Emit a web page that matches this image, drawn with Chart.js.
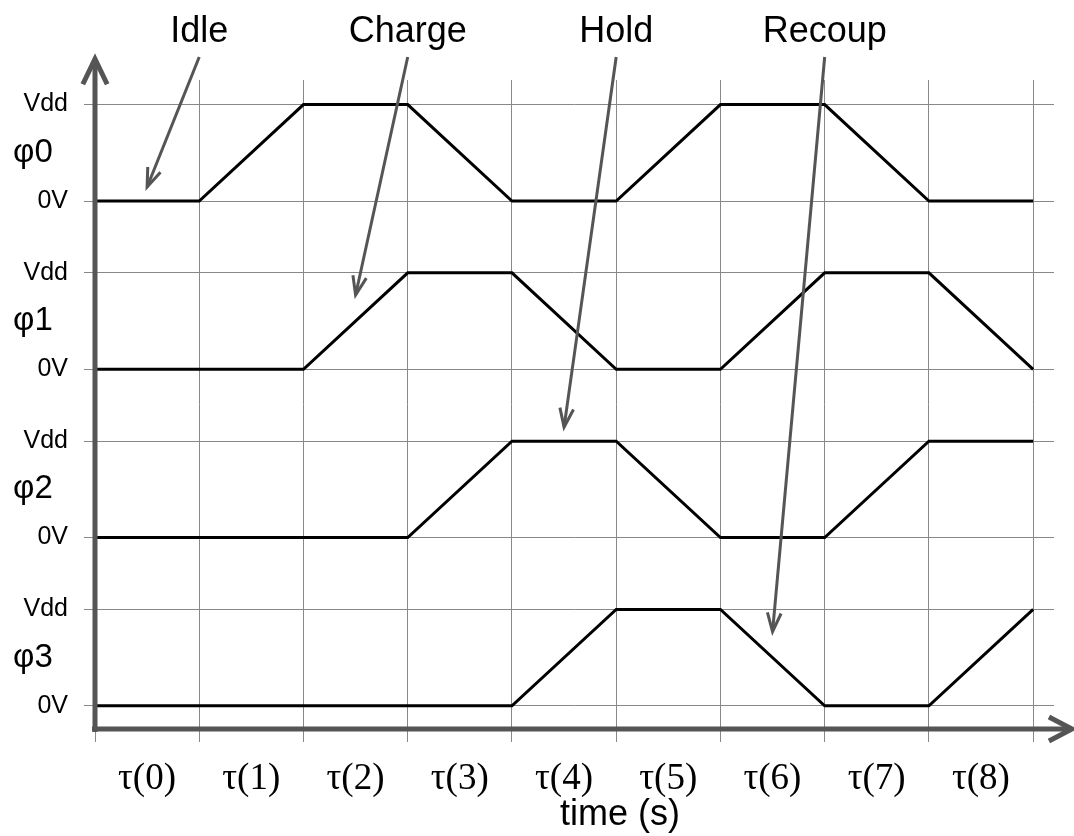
<!DOCTYPE html>
<html>
<head>
<meta charset="utf-8">
<script src="https://cdn.jsdelivr.net/npm/chart.js@4/dist/chart.umd.min.js"></script>
<style>
  body { margin: 0; background: #fff; }
  canvas { display: block; }
</style>
</head>
<body>
<canvas id="clocks" width="1074" height="836"></canvas>
<script>
// time steps and the level of each clock phase (0 = 0V, 1 = Vdd)
const steps = [0, 1, 2, 3, 4, 5, 6, 7, 8, 9];
const phi0 = [0, 0, 1, 1, 0, 0, 1, 1, 0, 0];
const phi1 = [0, 0, 0, 1, 1, 0, 0, 1, 1, 0];
const phi2 = [0, 0, 0, 0, 1, 1, 0, 0, 1, 1];
const phi3 = [0, 0, 0, 0, 0, 1, 1, 0, 0, 1];
const phaseNames = ['φ0', 'φ1', 'φ2', 'φ3'];
const tauLabels = ['τ(0)', 'τ(1)', 'τ(2)', 'τ(3)', 'τ(4)', 'τ(5)', 'τ(6)', 'τ(7)', 'τ(8)'];

// phase annotations: label above, arrow tail at labelX, head at (tipX, tipY)
const noteNames = ['Idle', 'Charge', 'Hold', 'Recoup'];
const noteLabelX = [1, 3, 5, 7];
const noteTipX = [0.5, 2.5, 4.5, 6.5];
const noteTipY = [5.38, 4.26, 2.89, 0.77];

const gap = 1.745; // vertical distance between phase baselines
const phases = [phi0, phi1, phi2, phi3];
const base = i => (phases.length - 1 - i) * gap;

const sans = 'Liberation Sans, Arial, sans-serif';
const serif = 'Liberation Serif, Times New Roman, serif';
const axisGrey = '#555';

function drawArrow(ctx, x0, y0, x1, y1, len, spread, width) {
    const ang = Math.atan2(y1 - y0, x1 - x0);
    ctx.save();
    ctx.strokeStyle = axisGrey;
    ctx.lineWidth = width;
    ctx.lineJoin = 'miter';
    ctx.beginPath();
    ctx.moveTo(x0, y0);
    ctx.lineTo(x1, y1);
    ctx.stroke();
    ctx.beginPath();
    ctx.moveTo(x1 - len * Math.cos(ang - spread), y1 - len * Math.sin(ang - spread));
    ctx.lineTo(x1, y1);
    ctx.lineTo(x1 - len * Math.cos(ang + spread), y1 - len * Math.sin(ang + spread));
    ctx.stroke();
    ctx.restore();
}

const decorations = {
    id: 'decorations',
    afterDatasetsDraw(chart) {
        const ctx = chart.ctx;
        const xs = chart.scales.x, ys = chart.scales.y;
        const area = chart.chartArea;
        const x0 = xs.getPixelForValue(0);

        // axes with arrow heads
        drawArrow(ctx, x0, area.bottom + 3, x0, 59, 28, 0.45, 5);
        drawArrow(ctx, x0 - 3, area.bottom, 1072, area.bottom, 26, 0.48, 5);

        ctx.save();
        ctx.fillStyle = '#000';
        ctx.textAlign = 'center';
        ctx.textBaseline = 'middle';

        // phase names between the 0V and Vdd ticks
        ctx.font = '33px ' + sans;
        phaseNames.forEach((name, i) => {
            ctx.fillText(name, 33, ys.getPixelForValue(base(i) + 0.5));
        });

        // x axis title
        ctx.textBaseline = 'alphabetic';
        ctx.font = '36px ' + sans;
        ctx.fillText('time (s)', 620, 825);

        // annotation labels and arrows
        noteNames.forEach((name, i) => {
            const lx = xs.getPixelForValue(noteLabelX[i]);
            ctx.fillText(name, lx, 42);
            drawArrow(ctx, lx, 57, xs.getPixelForValue(noteTipX[i]),
                ys.getPixelForValue(noteTipY[i]), 20, 0.35, 3);
        });
        ctx.restore();
    }
};

const levelTicks = [];
phases.forEach((p, i) => { levelTicks.push(base(i), base(i) + 1); });
levelTicks.sort((a, b) => a - b);

new Chart(document.getElementById('clocks'), {
    type: 'line',
    data: {
        datasets: phases.map((levels, i) => ({
            label: phaseNames[i],
            data: steps.map((t, k) => ({ x: t, y: levels[k] + base(i) })),
            borderColor: '#000',
            borderWidth: 3,
            pointRadius: 0,
            tension: 0,
            fill: false
        }))
    },
    options: {
        responsive: false,
        animation: false,
        layout: { padding: { top: 80, right: 20, left: 0, bottom: 0 } },
        plugins: {
            legend: { display: false },
            tooltip: { enabled: false }
        },
        scales: {
            x: {
                type: 'linear',
                min: 0,
                max: 9.2,
                afterBuildTicks: scale => { scale.ticks = steps.map(v => ({ value: v })); },
                afterFit: scale => { scale.height = 836 - 729; },
                border: { display: false },
                grid: { color: '#888', lineWidth: 1, tickLength: 13 },
                ticks: {
                    autoSkip: false,
                    maxRotation: 0,
                    labelOffset: 52,
                    padding: 15,
                    color: '#000',
                    font: { family: serif, size: 37 },
                    callback: v => tauLabels[v] || ''
                }
            },
            y: {
                type: 'linear',
                min: -0.24,
                max: 6.49,
                afterBuildTicks: scale => { scale.ticks = levelTicks.map(v => ({ value: v })); },
                afterFit: scale => { scale.width = 95; },
                border: { display: false },
                grid: { color: '#888', lineWidth: 1, tickLength: 11 },
                ticks: {
                    padding: 16,
                    color: '#000',
                    font: { family: sans, size: 25 },
                    callback: (v, idx) => (idx % 2 === 0 ? '0V' : 'Vdd')
                }
            }
        }
    },
    plugins: [decorations]
});
</script>
</body>
</html>
